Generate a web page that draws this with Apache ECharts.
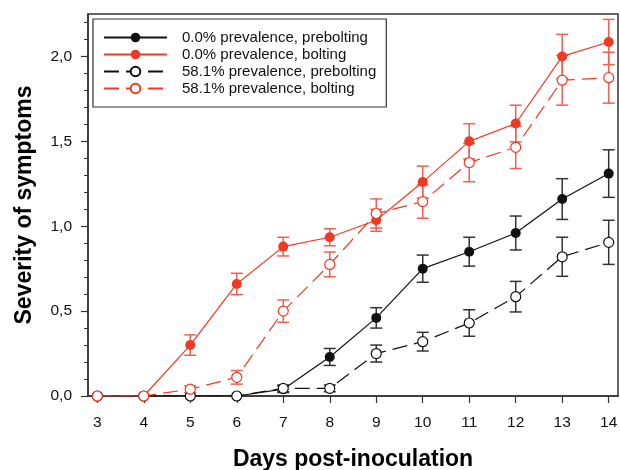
<!DOCTYPE html>
<html>
<head>
<meta charset="utf-8">
<script src="https://cdn.jsdelivr.net/npm/echarts@6/dist/echarts.min.js"></script>
<style>
  html, body {margin: 0; padding: 0; background: #fff;}
  #chart {width: 620px; height: 470px;}
</style>
</head>
<body>
<div id="chart"></div>
<script>
// days on the x axis
const days = [3, 4, 5, 6, 7, 8, 9, 10, 11, 12, 13, 14]
const yTicks = [0, 0.5, 1, 1.5, 2]
const yMinorTicks = [0.1, 0.2, 0.3, 0.4, 0.6, 0.7, 0.8, 0.9, 1.1, 1.2, 1.3, 1.4, 1.6, 1.7, 1.8, 1.9, 2.1, 2.2]

const names = [
  '0.0% prevalence, prebolting',
  '0.0% prevalence, bolting',
  '58.1% prevalence, prebolting',
  '58.1% prevalence, bolting',
]

// means and standard errors
const pre0 = [0, 0, 0, 0, 0.04, 0.23, 0.46, 0.75, 0.85, 0.96, 1.16, 1.31]
const pre0Err = [0, 0, 0, 0, 0.02, 0.05, 0.06, 0.08, 0.085, 0.10, 0.12, 0.14]
const bolt0 = [0, 0, 0.30, 0.66, 0.88, 0.935, 1.035, 1.26, 1.50, 1.605, 2.00, 2.085]
const bolt0Err = [0, 0, 0.06, 0.063, 0.055, 0.05, 0.065, 0.094, 0.104, 0.108, 0.13, 0.133]
const pre58 = [0, 0, 0, 0, 0.045, 0.045, 0.25, 0.32, 0.43, 0.585, 0.82, 0.905]
const pre58Err = [0, 0, 0, 0, 0.02, 0.02, 0.05, 0.055, 0.078, 0.09, 0.115, 0.13]
const bolt58 = [0, 0, 0.04, 0.11, 0.50, 0.775, 1.075, 1.145, 1.375, 1.465, 1.86, 1.875]
const bolt58Err = [0, 0, 0.02, 0.04, 0.066, 0.073, 0.086, 0.098, 0.113, 0.125, 0.147, 0.15]

const BLACK = '#111'
const RED = '#ee3a24'
const RED_BAR = '#f0604f'
const FONT = '"Liberation Sans", Arial, sans-serif'

const pts = function (vals) {
  return days.map((d, i) => [d, vals[i]])
}

const errData = function (vals, errs) {
  return days.map((d, i) => [d, vals[i] - errs[i], vals[i] + errs[i], errs[i]])
}

const errSeries = function (vals, errs, color) {
  return {
    type: 'custom',
    data: errData(vals, errs),
    z: 1,
    silent: true,
    renderItem: function (params, api) {
      if (api.value(3) <= 0) return null
      const x = api.value(0)
      const top = api.coord([x, api.value(2)])
      const bot = api.coord([x, api.value(1)])
      const w = 6
      const st = {stroke: color, lineWidth: 1.5}
      return {
        type: 'group',
        children: [
          {type: 'line', shape: {x1: top[0], y1: top[1], x2: bot[0], y2: bot[1]}, style: st},
          {type: 'line', shape: {x1: top[0] - w, y1: top[1], x2: top[0] + w, y2: top[1]}, style: st},
          {type: 'line', shape: {x1: bot[0] - w, y1: bot[1], x2: bot[0] + w, y2: bot[1]}, style: st},
        ],
      }
    },
  }
}

const lineSeries = function (name, vals, color, open) {
  return {
    name: name,
    type: 'line',
    data: pts(vals),
    z: 2,
    symbol: 'circle',
    symbolSize: 10,
    showSymbol: true,
    lineStyle: {color: color, width: 1.2, type: open ? [15, 7] : 'solid'},
    itemStyle: open
      ? {color: '#fff', borderColor: color, borderWidth: 1.2}
      : {color: color, borderColor: color, borderWidth: 0},
    emphasis: {disabled: true},
  }
}

const fmt = function (v) {
  return v.toFixed(1).replace('.', ',')
}

const chart = echarts.init(document.getElementById('chart'))

chart.setOption({
  animation: false,
  backgroundColor: '#fff',
  textStyle: {fontFamily: FONT},
  grid: {
    left: 88, right: 2, top: 14, bottom: 74,
    outerBoundsMode: 'none',
    containLabel: false,
    show: true, borderColor: '#333', borderWidth: 1.5,
  },
  legend: {
    data: names,
    orient: 'vertical',
    left: 93,
    top: 19,
    backgroundColor: '#fff',
    borderColor: '#333',
    borderWidth: 1.2,
    borderRadius: 0,
    padding: [11, 10, 11, 10],
    itemWidth: 63,
    itemHeight: 12,
    itemGap: 2,
    selectedMode: false,
    textStyle: {fontFamily: FONT, fontSize: 15, color: '#111', padding: [0, 0, 0, 10]},
  },
  xAxis: {
    type: 'value',
    min: 2.8,
    max: 14.2,
    name: 'Days post-inoculation',
    nameLocation: 'middle',
    nameGap: 52,
    nameTextStyle: {fontFamily: FONT, fontSize: 23, fontWeight: 'bold', color: '#000'},
    axisLine: {show: true, lineStyle: {color: '#333', width: 1.5}},
    axisTick: {show: true, inside: false, length: 7, customValues: days, lineStyle: {color: '#333', width: 1.2}},
    axisLabel: {customValues: days, margin: 19, fontFamily: FONT, fontSize: 15.5, color: '#111'},
    splitLine: {show: false},
  },
  yAxis: [
    {
      type: 'value',
      min: 0,
      max: 2.25,
      name: 'Severity of symptoms',
      nameLocation: 'middle',
      nameGap: 52,
      nameTextStyle: {fontFamily: FONT, fontSize: 23, fontWeight: 'bold', color: '#000'},
      axisLine: {show: true, lineStyle: {color: '#333', width: 1.5}},
      axisTick: {show: true, inside: false, length: 7, customValues: yTicks, lineStyle: {color: '#333', width: 1.2}},
      axisLabel: {customValues: yTicks, formatter: fmt, margin: 16, fontFamily: FONT, fontSize: 15.5, color: '#111'},
      splitLine: {show: false},
    },
    {
      type: 'value',
      min: 0,
      max: 2.25,
      position: 'left',
      axisLine: {show: false},
      axisTick: {show: true, inside: false, length: 4, customValues: yMinorTicks, lineStyle: {color: '#333', width: 1}},
      axisLabel: {show: false},
      splitLine: {show: false},
    },
  ],
  series: [
    errSeries(pre0, pre0Err, '#333'),
    errSeries(pre58, pre58Err, '#333'),
    errSeries(bolt0, bolt0Err, RED_BAR),
    errSeries(bolt58, bolt58Err, RED_BAR),
    lineSeries(names[0], pre0, BLACK, false),
    lineSeries(names[2], pre58, BLACK, true),
    lineSeries(names[1], bolt0, RED, false),
    lineSeries(names[3], bolt58, RED, true),
  ],
})
</script>
</body>
</html>
